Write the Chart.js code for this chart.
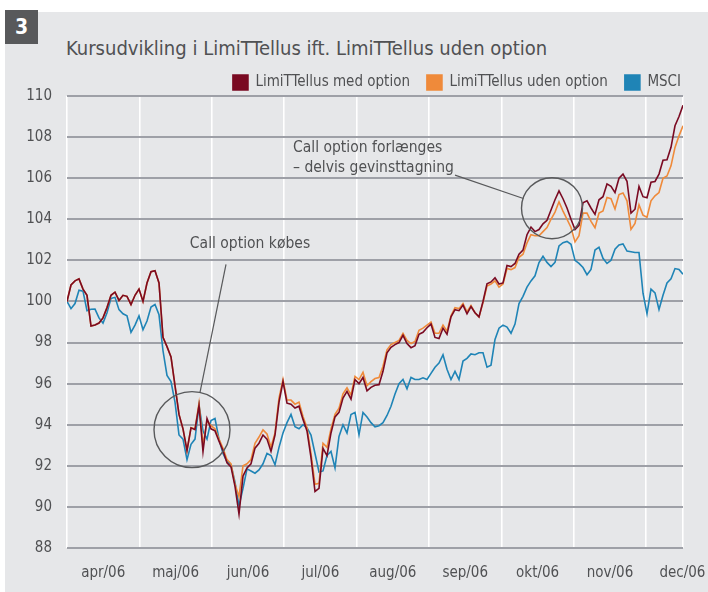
<!DOCTYPE html>
<html>
<head>
<meta charset="utf-8">
<script src="https://cdn.jsdelivr.net/npm/chart.js@4.4.0/dist/chart.umd.min.js"></script>
<style>
html,body{margin:0;padding:0;background:#fff;}
#wrap{position:relative;width:708px;height:592px;overflow:hidden;background:#fff;}
#panel{position:absolute;left:5px;top:12px;right:0;bottom:0;background:#e6e7e9;}
#num{position:absolute;left:5px;top:10px;width:33px;height:34px;background:#58595b;color:#fff;font:bold 21px 'DejaVu Sans Condensed','DejaVu Sans',sans-serif;text-align:center;line-height:34px;}
#title{position:absolute;left:66px;top:36px;font:20px 'DejaVu Sans Condensed',sans-serif;color:#505153;white-space:nowrap;}
#c{position:absolute;left:0;top:0;}
</style>
</head>
<body>
<div id="wrap">
  <div id="panel"></div>
  <div id="num">3</div>
  <div id="title">Kursudvikling i LimiTTellus ift. LimiTTellus uden option</div>
  <canvas id="c" width="708" height="592"></canvas>
</div>
<script>
// ---- data (index = sample number along the period) ----
const monthLabels = ['apr/06','maj/06','jun/06','jul/06','aug/06','sep/06','okt/06','nov/06','dec/06'];
const samplesPerMonth = 18.1;
const yTickValues = [88,90,92,94,96,98,100,102,104,106,108,110];

const medOption = [
100.0,100.8,101.0,101.1,100.6,100.3,98.8,98.85,98.95,99.2,
99.7,100.3,100.45,100.05,100.3,100.25,99.85,100.3,100.6,100.0,
100.9,101.45,101.5,100.9,98.25,97.8,97.3,95.9,94.5,93.8,
92.75,93.85,93.76,94.93,92.7,94.3,93.8,93.7,93.2,92.75,
92.15,91.95,91.0,89.65,91.5,91.9,92.1,92.86,93.1,93.5,
93.3,92.7,93.5,95.1,96.1,95.05,95.0,94.81,94.9,94.26,
93.7,92.4,90.75,90.9,92.85,92.5,93.6,94.38,94.6,95.3,
95.62,95.25,96.2,96.0,96.3,95.65,95.82,95.92,95.95,96.6,
97.5,97.77,97.9,98.0,98.35,97.95,97.75,97.85,98.4,98.5,
98.72,98.9,98.25,98.2,98.7,98.4,99.25,99.6,99.55,99.82,
99.4,99.75,99.45,99.25,100.0,100.86,100.95,101.15,100.85,100.9,
101.75,101.7,101.85,102.3,102.5,103.25,103.62,103.4,103.5,103.78,
103.95,104.45,104.95,105.38,105.0,104.55,104.0,103.5,103.7,104.8,
104.9,104.55,104.24,104.95,105.1,105.72,105.6,105.3,106.0,106.2,
105.85,104.3,104.49,105.6,105.1,105.05,105.8,105.84,106.2,106.87,
106.9,107.5,108.55,109.0,109.55
];

const udenOption = [
100.0,100.8,101.0,101.1,100.6,100.3,98.8,98.85,98.95,99.2,
99.7,100.3,100.45,100.05,100.3,100.25,99.85,100.3,100.6,100.0,
100.9,101.45,101.5,100.9,98.25,97.8,97.3,95.9,94.5,93.8,
92.75,93.85,93.8,95.05,93.0,94.2,93.95,93.8,93.3,92.85,
92.3,92.1,91.1,90.5,92.0,92.1,92.3,93.1,93.4,93.75,
93.55,92.9,93.6,95.3,96.2,95.2,95.2,95.0,95.1,94.4,
93.85,92.6,91.1,91.15,93.1,92.9,93.8,94.5,94.8,95.5,
95.8,95.45,96.35,96.2,96.55,95.9,96.1,96.25,96.3,96.85,
97.65,97.9,98.0,98.1,98.45,98.1,97.95,98.05,98.6,98.7,
98.85,99.0,98.45,98.45,98.85,98.55,99.3,99.7,99.65,99.9,
99.5,99.8,99.45,99.25,99.95,100.75,100.85,101.0,100.7,100.85,
101.6,101.55,101.65,102.15,102.3,102.85,103.25,103.2,103.2,103.4,
103.6,104.0,104.35,104.85,104.4,104.0,103.6,102.9,103.2,104.3,
104.3,103.9,103.59,104.3,104.4,105.06,105.0,104.5,105.2,105.28,
104.9,103.51,103.8,104.7,104.2,104.1,104.9,105.14,105.3,106.0,
106.11,106.6,107.5,108.06,108.55
];

const msci = [
100.0,99.65,99.9,100.55,100.5,99.55,99.62,99.63,99.2,98.95,
99.45,100.15,100.2,99.6,99.4,99.3,98.5,98.85,99.3,98.63,
99.05,99.73,99.85,99.35,97.6,96.4,96.1,95.1,93.5,93.3,
92.3,93.05,93.3,94.95,93.7,93.3,94.2,94.3,93.3,92.6,
92.2,92.05,91.2,90.05,90.9,91.85,91.75,91.64,91.8,92.1,
92.6,92.5,92.05,92.9,93.6,94.1,94.5,93.9,93.8,94.0,
93.85,93.5,92.6,91.7,91.75,92.5,92.7,91.9,93.43,94.0,
93.6,94.5,94.6,93.51,94.6,94.38,94.1,93.9,93.95,94.1,
94.45,94.9,95.5,96.0,96.2,95.75,96.3,96.2,96.2,96.28,
96.2,96.5,96.8,97.0,97.4,96.7,96.2,96.6,96.2,97.1,
97.23,97.45,97.41,97.5,97.5,96.8,96.9,98.15,98.7,98.85,
98.75,98.45,98.9,99.9,100.25,100.7,101.0,101.25,101.89,102.2,
101.9,101.7,101.9,102.7,102.86,102.92,102.78,102.0,101.85,101.65,
101.3,101.56,102.5,102.64,102.1,101.85,102.0,102.54,102.75,102.8,
102.45,102.42,102.38,102.38,100.4,99.4,100.6,100.42,99.61,100.3,
100.9,101.1,101.6,101.56,101.32
];

const seriesNames = ['LimiTTellus med option','LimiTTellus uden option','MSCI'];
const seriesColors = ['#7a0a22','#ef8a3a','#1f84b6'];

// annotation anchors in data units (sample index, index value)
const noteBuy = {cx:31.25, cy:93.76, rPx:38, from:[33.25,95.58], to:[39.75,101.8], text:['Call option købes'], tx:45.75, ty:102.78, align:'center'};
const noteRoll = {cx:121.25, cy:104.54, rPx:30.5, from:[114.1,105.01], to:[97,106.15], text:['Call option forlænges','– delvis gevinsttagning'], tx:56.5, ty:107.45, align:'left'};

// ---- chart ----
const FONT = "'DejaVu Sans Condensed',sans-serif";
const TXT = '#505153';
const lastIdx = medOption.length - 1;
const monthBoundaries = monthLabels.map((m,k)=>k*samplesPerMonth).concat([lastIdx]);
const monthCenters = monthLabels.map((m,k)=>(k+0.5)*samplesPerMonth);

const toXY = arr => arr.map((v,i)=>({x:i,y:v}));
const datasets = [medOption, udenOption, msci].map((arr,k)=>({
  label: seriesNames[k], data: toXY(arr),
  borderColor: seriesColors[k], backgroundColor: seriesColors[k],
  borderWidth: 1.6, pointRadius: 0, tension: 0
}));

const legendShift = {
  id:'legendShift',
  afterLayout(chart){
    const lg = chart.legend;
    if(!lg) return;
    lg.right = chart.chartArea.right + 15;
    lg.top += 4; lg.bottom += 4;
  }
};

const notesPlugin = {
  id:'notes',
  afterDatasetsDraw(chart){
    const ctx = chart.ctx, xs = chart.scales.x, ys = chart.scales.y;
    ctx.save();
    ctx.strokeStyle = '#58595b';
    ctx.fillStyle = TXT;
    [noteBuy, noteRoll].forEach(n=>{
      const cx = xs.getPixelForValue(n.cx), cy = ys.getPixelForValue(n.cy);
      ctx.lineWidth = 1.4;
      ctx.beginPath(); ctx.arc(cx, cy, n.rPx, 0, Math.PI*2); ctx.stroke();
      ctx.lineWidth = 1.2;
      ctx.beginPath();
      ctx.moveTo(xs.getPixelForValue(n.from[0]), ys.getPixelForValue(n.from[1]));
      ctx.lineTo(xs.getPixelForValue(n.to[0]), ys.getPixelForValue(n.to[1]));
      ctx.stroke();
      ctx.font = '15.5px ' + FONT;
      ctx.textAlign = n.align; ctx.textBaseline = 'middle';
      n.text.forEach((t,j)=>{
        ctx.fillText(t, xs.getPixelForValue(n.tx), ys.getPixelForValue(n.ty) + j*20);
      });
    });
    ctx.restore();
  }
};

new Chart(document.getElementById('c'), {
  type:'line',
  data:{datasets},
  options:{
    responsive:false, animation:false,
    layout:{padding:{left:10,right:25,top:54,bottom:0}},
    plugins:{
      legend:{display:true, position:'top', align:'end',
        labels:{boxWidth:15, boxHeight:15, padding:17, color:TXT, font:{family:FONT,size:15}}},
      tooltip:{enabled:false}
    },
    scales:{
      x:{type:'linear', min:0, max:lastIdx,
        grid:{color:'#ffffff', lineWidth:1.6, drawTicks:false},
        border:{display:false},
        ticks:{display:false},
        afterBuildTicks:s=>{ s.ticks = monthBoundaries.map(v=>({value:v})); },
        afterFit:s=>{ s.height = 0; s.paddingLeft = 0; s.paddingRight = 0; }
      },
      x2:{type:'linear', position:'bottom', min:0, max:lastIdx,
        grid:{display:false, drawTicks:false},
        border:{display:false},
        ticks:{color:TXT, font:{family:FONT,size:15}, padding:16, maxRotation:0, autoSkip:false,
          callback:(v,i)=>monthLabels[i]},
        afterBuildTicks:s=>{ s.ticks = monthCenters.map(v=>({value:v})); },
        afterFit:s=>{ s.height = 44; s.paddingLeft = 0; s.paddingRight = 0; }
      },
      y:{min:88, max:110,
        grid:{color:'#9ea0a7', lineWidth:2, drawTicks:false},
        border:{display:false},
        ticks:{color:TXT, font:{family:FONT,size:15}, padding:15},
        afterBuildTicks:s=>{ s.ticks = yTickValues.map(v=>({value:v})); },
        afterFit:s=>{ s.width = 57; s.paddingTop = 0; s.paddingBottom = 0; }
      }
    }
  },
  plugins:[legendShift, notesPlugin]
});
</script>
</body>
</html>
